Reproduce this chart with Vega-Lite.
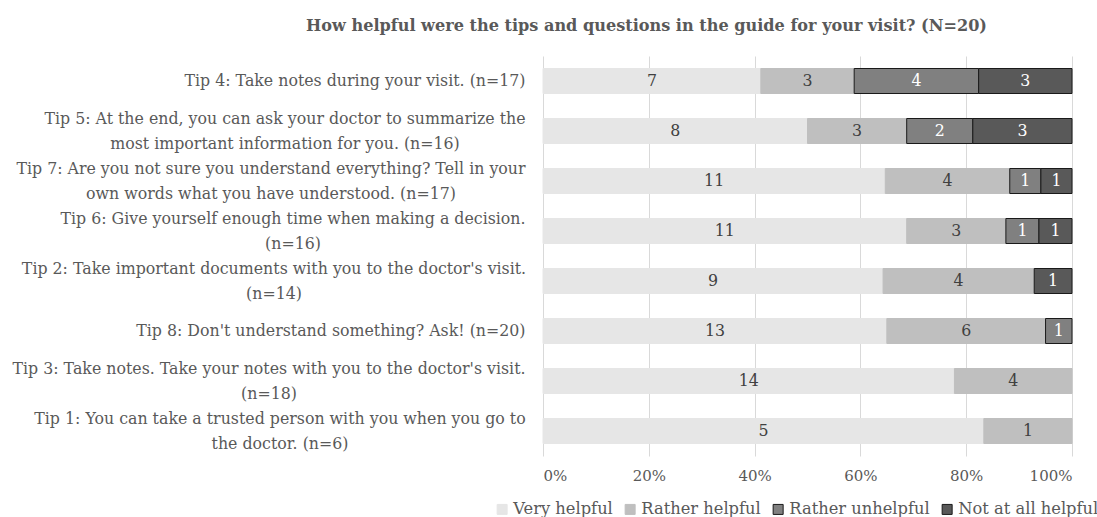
{
  "$schema": "https://vega.github.io/schema/vega-lite/v6.json",
  "width": 529,
  "height": 400,
  "autosize": {"type": "none"},
  "padding": {"left": 543, "top": 56, "right": 25, "bottom": 61},
  "background": "white",
  "config": {
    "view": {"stroke": null},
    "font": "DejaVu Serif"
  },
  "title": {
    "text": "How helpful were the tips and questions in the guide for your visit? (N=20)",
    "font": "DejaVu Serif",
    "fontSize": 16.1,
    "fontWeight": "bold",
    "color": "#595959",
    "anchor": "middle",
    "dx": -161,
    "offset": 22
  },
  "data": {
    "values": [
      {"tip": "Tip 4: Take notes during your visit. (n=17)", "category": "Very helpful", "count": 7},
      {"tip": "Tip 4: Take notes during your visit. (n=17)", "category": "Rather helpful", "count": 3},
      {"tip": "Tip 4: Take notes during your visit. (n=17)", "category": "Rather unhelpful", "count": 4},
      {"tip": "Tip 4: Take notes during your visit. (n=17)", "category": "Not at all helpful", "count": 3},
      {"tip": "Tip 5: At the end, you can ask your doctor to summarize the|most important information for you. (n=16)", "category": "Very helpful", "count": 8},
      {"tip": "Tip 5: At the end, you can ask your doctor to summarize the|most important information for you. (n=16)", "category": "Rather helpful", "count": 3},
      {"tip": "Tip 5: At the end, you can ask your doctor to summarize the|most important information for you. (n=16)", "category": "Rather unhelpful", "count": 2},
      {"tip": "Tip 5: At the end, you can ask your doctor to summarize the|most important information for you. (n=16)", "category": "Not at all helpful", "count": 3},
      {"tip": "Tip 7: Are you not sure you understand everything? Tell in your|own words what you have understood. (n=17)", "category": "Very helpful", "count": 11},
      {"tip": "Tip 7: Are you not sure you understand everything? Tell in your|own words what you have understood. (n=17)", "category": "Rather helpful", "count": 4},
      {"tip": "Tip 7: Are you not sure you understand everything? Tell in your|own words what you have understood. (n=17)", "category": "Rather unhelpful", "count": 1},
      {"tip": "Tip 7: Are you not sure you understand everything? Tell in your|own words what you have understood. (n=17)", "category": "Not at all helpful", "count": 1},
      {"tip": "Tip 6:  Give yourself enough time when making a decision.|(n=16)", "category": "Very helpful", "count": 11},
      {"tip": "Tip 6:  Give yourself enough time when making a decision.|(n=16)", "category": "Rather helpful", "count": 3},
      {"tip": "Tip 6:  Give yourself enough time when making a decision.|(n=16)", "category": "Rather unhelpful", "count": 1},
      {"tip": "Tip 6:  Give yourself enough time when making a decision.|(n=16)", "category": "Not at all helpful", "count": 1},
      {"tip": "Tip 2: Take important documents with you to the doctor's visit.|(n=14)", "category": "Very helpful", "count": 9},
      {"tip": "Tip 2: Take important documents with you to the doctor's visit.|(n=14)", "category": "Rather helpful", "count": 4},
      {"tip": "Tip 2: Take important documents with you to the doctor's visit.|(n=14)", "category": "Not at all helpful", "count": 1},
      {"tip": "Tip 8: Don't understand something? Ask! (n=20)", "category": "Very helpful", "count": 13},
      {"tip": "Tip 8: Don't understand something? Ask! (n=20)", "category": "Rather helpful", "count": 6},
      {"tip": "Tip 8: Don't understand something? Ask! (n=20)", "category": "Rather unhelpful", "count": 1},
      {"tip": "Tip 3: Take notes. Take your notes with you to the doctor's visit.|(n=18)", "category": "Very helpful", "count": 14},
      {"tip": "Tip 3: Take notes. Take your notes with you to the doctor's visit.|(n=18)", "category": "Rather helpful", "count": 4},
      {"tip": "Tip 1: You can take a trusted person with you when you go to|the doctor. (n=6)", "category": "Very helpful", "count": 5},
      {"tip": "Tip 1: You can take a trusted person with you when you go to|the doctor. (n=6)", "category": "Rather helpful", "count": 1}
    ]
  },
  "transform": [
    {"calculate": "indexof(['Very helpful','Rather helpful','Rather unhelpful','Not at all helpful'], datum.category)", "as": "rank"},
    {"stack": "count", "groupby": ["tip"], "sort": [{"field": "rank", "order": "ascending"}], "offset": "normalize", "as": ["x0", "x1"]},
    {"calculate": "(datum.x0 + datum.x1) / 2", "as": "xmid"}
  ],
  "encoding": {
    "y": {
      "field": "tip",
      "type": "nominal",
      "sort": [
        "Tip 4: Take notes during your visit. (n=17)",
        "Tip 5: At the end, you can ask your doctor to summarize the|most important information for you. (n=16)",
        "Tip 7: Are you not sure you understand everything? Tell in your|own words what you have understood. (n=17)",
        "Tip 6:  Give yourself enough time when making a decision.|(n=16)",
        "Tip 2: Take important documents with you to the doctor's visit.|(n=14)",
        "Tip 8: Don't understand something? Ask! (n=20)",
        "Tip 3: Take notes. Take your notes with you to the doctor's visit.|(n=18)",
        "Tip 1: You can take a trusted person with you when you go to|the doctor. (n=6)"
      ],
      "scale": {"paddingInner": 0.5, "paddingOuter": 0.25},
      "axis": {
        "title": null,
        "domain": false,
        "ticks": false,
        "labelExpr": "split(datum.label, '|')",
        "labelLimit": 0,
        "labelFont": "DejaVu Serif",
        "labelFontSize": 15.8,
        "labelColor": "#595959",
        "labelLineHeight": 25,
        "labelAlign": {"condition": {"test": "indexof(datum.value, '|') >= 0", "value": "center"}, "value": "right"},
        "labelPadding": {
          "condition": [
            {"test": "indexof(datum.value, 'Tip 5') == 0", "value": 258.5},
            {"test": "indexof(datum.value, 'Tip 7') == 0", "value": 272.5},
            {"test": "indexof(datum.value, 'Tip 6') == 0", "value": 250.5},
            {"test": "indexof(datum.value, 'Tip 2') == 0", "value": 269.5},
            {"test": "indexof(datum.value, 'Tip 3') == 0", "value": 274.5},
            {"test": "indexof(datum.value, 'Tip 1') == 0", "value": 263.5}
          ],
          "value": 18
        },
        "labelOffset": {"condition": {"test": "indexof(datum.value, '|') >= 0", "value": -12.5}, "value": 0}
      }
    }
  },
  "layer": [
    {
      "mark": {"type": "bar", "strokeWidth": 1},
      "encoding": {
        "x": {
          "field": "x0",
          "type": "quantitative",
          "scale": {"domain": [0, 1]},
          "axis": {
            "title": null,
            "format": "%",
            "values": [0, 0.2, 0.4, 0.6, 0.8, 1],
            "domain": false,
            "ticks": false,
            "grid": true,
            "gridColor": "#d9d9d9",
            "gridWidth": 1,
            "labelFont": "DejaVu Serif",
            "labelFontSize": 15,
            "labelColor": "#595959",
            "labelPadding": 12
          }
        },
        "x2": {"field": "x1"},
        "color": {
          "field": "category",
          "type": "nominal",
          "scale": {
            "domain": ["Very helpful", "Rather helpful", "Rather unhelpful", "Not at all helpful"],
            "range": ["#e6e6e6", "#bfbfbf", "#808080", "#595959"]
          },
          "legend": {
            "title": null,
            "orient": "none",
            "direction": "horizontal",
            "legendX": -49,
            "legendY": 445,
            "symbolType": "square",
            "symbolSize": 100,
            "symbolStrokeWidth": 1,
            "labelFont": "DejaVu Serif",
            "labelFontSize": 16.3,
            "labelColor": "#595959",
            "labelOffset": 3,
            "columnPadding": 9,
            "labelLimit": 0
          }
        },
        "stroke": {
          "field": "category",
          "type": "nominal",
          "scale": {
            "domain": ["Very helpful", "Rather helpful", "Rather unhelpful", "Not at all helpful"],
            "range": ["#e6e6e6", "#bfbfbf", "#1a1a1a", "#1a1a1a"]
          },
          "legend": {
            "title": null,
            "orient": "none",
            "direction": "horizontal",
            "legendX": -49,
            "legendY": 445,
            "symbolType": "square",
            "symbolSize": 100,
            "symbolStrokeWidth": 1,
            "labelFont": "DejaVu Serif",
            "labelFontSize": 16.3,
            "labelColor": "#595959",
            "labelOffset": 3,
            "columnPadding": 9,
            "labelLimit": 0
          }
        }
      }
    },
    {
      "mark": {"type": "text", "font": "DejaVu Serif", "fontSize": 15.8, "baseline": "middle", "align": "center"},
      "encoding": {
        "x": {"field": "xmid", "type": "quantitative", "scale": {"domain": [0, 1]}},
        "text": {"field": "count", "type": "quantitative"},
        "color": {
          "condition": {"test": "datum.rank >= 2", "value": "#ffffff"},
          "value": "#404040"
        }
      }
    }
  ]
}
